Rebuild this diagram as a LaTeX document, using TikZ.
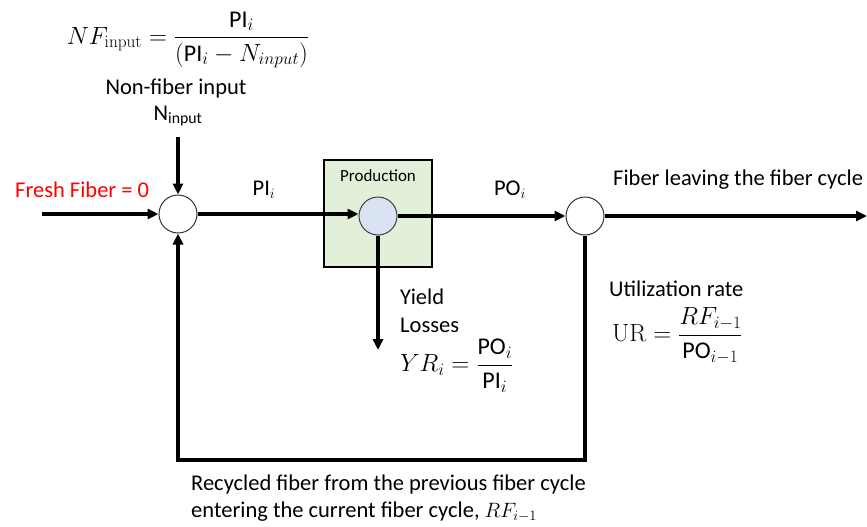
\documentclass[tikz,border=0pt]{standalone}
\usepackage{amsmath}
\usepackage[no-math]{fontspec}
\setmainfont{Carlito}
\usetikzlibrary{arrows.meta}
\begin{document}
\begin{tikzpicture}[x=1pt,y=-1pt,
  flow/.style={line width=3.2pt,-{Triangle[length=11pt,width=10pt]}},
  junction/.style={circle,draw=black!80,line width=1pt,minimum size=38pt,inner sep=0pt,fill=white},
  lbl/.style={font=\fontsize{22.5}{27}\selectfont,inner sep=0pt},
  mth/.style={font=\fontsize{24}{28}\selectfont,inner sep=0pt}]
\useasboundingbox (0,0) rectangle (867,527);
\definecolor{prodgreen}{HTML}{E2EFD9}
\definecolor{prodblue}{HTML}{DAE3F3}
% production box
\node[draw=black,line width=2.8pt,fill=prodgreen,minimum width=108pt,minimum height=107pt,inner sep=0pt] (box) at (378,213.5) {};
\node[font=\fontsize{17}{20}\selectfont,inner sep=0pt] (prodlbl) at (378,176) {Production};
% junctions
\node[junction] (sumL) at (178,214) {};
\node[junction,fill=prodblue,draw=black!75] (prod) at (378,216) {};
\node[junction] (sumR) at (585,216) {};
% coordinates
\coordinate (fin) at (42,214);
\coordinate (ntop) at (178,137);
\coordinate (out) at (867,216);
\coordinate (yl) at (378,350);
\coordinate (br) at (585,460);
\coordinate (bl) at (178,460);
% connectors
\draw[flow] (fin) -- (sumL);
\draw[flow] (ntop) -- (sumL);
\draw[flow] (sumL) -- (sumL -| prod.west);
\draw[flow] (prod) -- (sumR);
\draw[flow] (sumR) -- (out);
\draw[flow] (prod) -- (yl);
\draw[flow,line join=miter] (sumR) -- (br) -- (bl) -- (sumL);
% labels
\node[lbl,text=red,anchor=west] (fresh) at (15,190) {Fresh Fiber = 0};
\node[lbl] (pi) at (264,190) {PI$_{i}$};
\node[lbl] (po) at (510,190) {PO$_{i}$};
\node[lbl,anchor=west] (leave) at (613,180) {Fiber leaving the fiber cycle};
\node[lbl] (nin) at (178,116) {N\textsubscript{input}};
\node[lbl] (nfi) at (176,89) {Non-fiber input};
\node[mth] (nf) at (188,40) {$NF_{\mathrm{input}} = \dfrac{\textnormal{PI}_{i}}{\left(\textnormal{PI}_{i} - N_{input}\right)}$};
\node[lbl,anchor=west,align=left] (yield) at (400,311) {Yield\\[1pt]Losses};
\node[mth,anchor=west] (yr) at (400,366) {$YR_{i} = \dfrac{\textnormal{PO}_{i}}{\textnormal{PI}_{i}}$};
\node[lbl,anchor=west] (util) at (609,289) {Utilization rate};
\node[mth,anchor=west] (ur) at (612,336) {$\mathrm{UR} = \dfrac{RF_{i-1}}{\textnormal{PO}_{i-1}}$};
\node[lbl,anchor=west,align=left] (recyc) at (191,498) {Recycled fiber from the previous fiber cycle\\[0pt]entering the current fiber cycle, $RF_{i-1}$};
\end{tikzpicture}
\end{document}
